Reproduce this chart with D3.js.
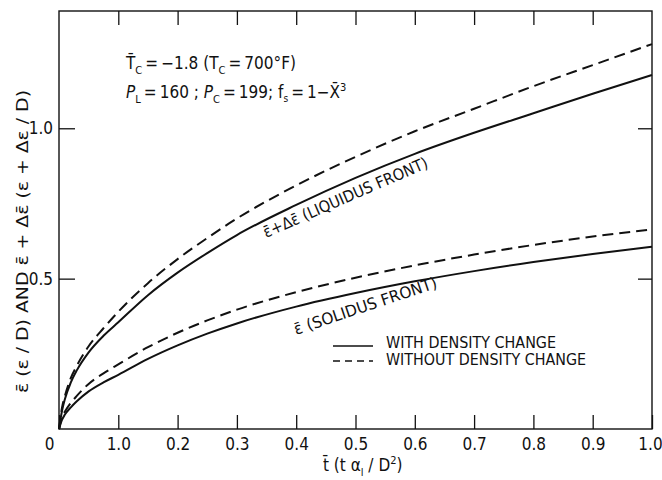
<!DOCTYPE html>
<html><head><meta charset="utf-8">
<script src="https://cdn.jsdelivr.net/npm/d3@7"></script>
<style>body{margin:0;background:#fff}</style>
</head><body>
<svg id="chart" width="662" height="480"></svg>
<script>
// ---- data ----
const tValues         = [0, 0.005, 0.01, 0.02, 0.03, 0.05, 0.075, 0.1, 0.15, 0.2, 0.25, 0.3, 0.4, 0.5, 0.6, 0.7, 0.8, 0.9, 1.0];
const liquidusWith    = [0, 0.06, 0.10, 0.155, 0.195, 0.255, 0.31, 0.355, 0.445, 0.52, 0.585, 0.645, 0.745, 0.835, 0.915, 0.985, 1.05, 1.115, 1.177];
const liquidusWithout = [0, 0.07, 0.11, 0.17, 0.21, 0.275, 0.335, 0.39, 0.485, 0.565, 0.635, 0.70, 0.81, 0.905, 0.99, 1.065, 1.14, 1.21, 1.28];
const solidusWith     = [0, 0.03, 0.048, 0.072, 0.092, 0.125, 0.155, 0.18, 0.233, 0.278, 0.317, 0.351, 0.407, 0.452, 0.491, 0.525, 0.555, 0.582, 0.606];
const solidusWithout  = [0, 0.04, 0.058, 0.087, 0.11, 0.15, 0.185, 0.215, 0.272, 0.32, 0.361, 0.397, 0.455, 0.503, 0.544, 0.58, 0.612, 0.64, 0.664];
const xTickValues = [0, 0.1, 0.2, 0.3, 0.4, 0.5, 0.6, 0.7, 0.8, 0.9, 1.0];
const xTickLabels = ["0", "1.0", "0.2", "0.3", "0.4", "0.5", "0.6", "0.7", "0.8", "0.9", "1.0"];
const yTickValues = [0.5, 1.0];
const yTickLabels = ["0.5", "1.0"];
const legendLabels = ["WITH DENSITY CHANGE", "WITHOUT DENSITY CHANGE"];

const FONT = "'Liberation Sans Narrow','DejaVu Sans Condensed','Arial Narrow',sans-serif";
const svg = d3.select("#chart");
const W = 662, H = 480;
const m = {left: 59, right: 10, top: 11, bottom: 51};
const x = d3.scaleLinear().domain([0, 1]).range([m.left, W - m.right]);
const y = d3.scaleLinear().domain([0, 1.39]).range([H - m.bottom, m.top]);

svg.append("rect").attr("width", W).attr("height", H).attr("fill", "#fff");

// axes (inward ticks)
const gx = svg.append("g").attr("transform", `translate(0,${y(0)})`)
  .call(d3.axisBottom(x).tickValues(xTickValues).tickSize(-14).tickPadding(9)
    .tickFormat((d, i) => xTickLabels[i]));
const gxt = svg.append("g").attr("transform", `translate(0,${y.range()[1]})`)
  .call(d3.axisTop(x).tickValues(xTickValues.slice(1, -1)).tickSize(-14).tickFormat(""));
const gy = svg.append("g").attr("transform", `translate(${x(0)},0)`)
  .call(d3.axisLeft(y).tickValues(yTickValues).tickSize(-16).tickPadding(6)
    .tickFormat((d, i) => yTickLabels[i]));
const gyr = svg.append("g").attr("transform", `translate(${x(1)},0)`)
  .call(d3.axisRight(y).tickValues(yTickValues).tickSize(-14).tickFormat(""));
[gx, gxt, gy, gyr].forEach(g => {
  g.select(".domain").remove();
  g.selectAll("line").attr("stroke", "#111").attr("stroke-width", 1.3);
  g.selectAll("text").attr("font-family", FONT).attr("font-size", 17).attr("fill", "#111");
});
gx.selectAll(".tick").filter(d => d === 0).select("text").attr("dx", -10);
gx.selectAll(".tick").filter(d => d === 1).select("text").attr("dx", -2);

// frame
svg.append("rect")
  .attr("x", x(0)).attr("y", y.range()[1])
  .attr("width", x(1) - x(0)).attr("height", y(0) - y.range()[1])
  .attr("fill", "none").attr("stroke", "#111").attr("stroke-width", 1.4);

// curves
const line = d3.line().x((d, i) => x(tValues[i])).y(d => y(d)).curve(d3.curveMonotoneX);
const series = [
  {v: liquidusWith, dash: null},
  {v: liquidusWithout, dash: "11,6"},
  {v: solidusWith, dash: null},
  {v: solidusWithout, dash: "11,6"}
];
series.forEach(s => {
  svg.append("path").attr("d", line(s.v)).attr("fill", "none")
    .attr("stroke", "#111").attr("stroke-width", 2)
    .attr("stroke-dasharray", s.dash);
});

// curve labels
svg.append("text").attr("font-family", FONT).attr("font-size", 16).attr("fill", "#111")
  .attr("transform", "translate(266,238) rotate(-23.5)")
  .attr("textLength", 178).attr("lengthAdjust", "spacingAndGlyphs")
  .text("ε\u0304+Δε\u0304 (LIQUIDUS FRONT)");
svg.append("text").attr("font-family", FONT).attr("font-size", 16).attr("fill", "#111")
  .attr("transform", "translate(296,335) rotate(-18.5)")
  .attr("textLength", 150).attr("lengthAdjust", "spacingAndGlyphs")
  .text("ε\u0304 (SOLIDUS FRONT)");

// annotation
const a1 = svg.append("text").attr("font-family", FONT).attr("font-size", 17).attr("fill", "#111")
  .attr("x", 126).attr("y", 69);
a1.append("tspan").text("T\u0304");
a1.append("tspan").attr("dy", 5).attr("font-size", 11).text("C");
a1.append("tspan").attr("dy", -5).text("\u2009=\u2009−1.8 (T");
a1.append("tspan").attr("dy", 5).attr("font-size", 11).text("C");
a1.append("tspan").attr("dy", -5).text("\u2009=\u2009700°F)");
const a2 = svg.append("text").attr("font-family", FONT).attr("font-size", 17).attr("fill", "#111")
  .attr("x", 126).attr("y", 98);
a2.append("tspan").attr("font-style", "italic").text("P");
a2.append("tspan").attr("dy", 5).attr("font-size", 11).text("L");
a2.append("tspan").attr("dy", -5).text("\u2009=\u2009160 ; ");
a2.append("tspan").attr("font-style", "italic").text("P");
a2.append("tspan").attr("dy", 5).attr("font-size", 11).text("C");
a2.append("tspan").attr("dy", -5).text("\u2009=\u2009199; f");
a2.append("tspan").attr("dy", 4).attr("font-size", 10).text("s");
a2.append("tspan").attr("dy", -4).text("\u2009=\u20091−X\u0304");
a2.append("tspan").attr("dy", -7).attr("font-size", 11).text("3");

// legend
const leg = [{y: 346, dash: null}, {y: 361, dash: "7,5"}];
leg.forEach((l, i) => {
  svg.append("line").attr("x1", 333).attr("x2", 373).attr("y1", l.y).attr("y2", l.y)
    .attr("stroke", "#111").attr("stroke-width", 1.5).attr("stroke-dasharray", l.dash);
  svg.append("text").attr("font-family", FONT).attr("font-size", 15).attr("fill", "#111")
    .attr("x", 386).attr("y", 348 + i * 17)
    .attr("textLength", i === 0 ? 170 : 200).attr("lengthAdjust", "spacingAndGlyphs")
    .text(legendLabels[i]);
});

// axis titles
const xt = svg.append("text").attr("font-family", FONT).attr("font-size", 17).attr("fill", "#111")
  .attr("x", 323).attr("y", 471);
xt.append("tspan").text("t\u0304 (t α");
xt.append("tspan").attr("dy", 5).attr("font-size", 11).text("l");
xt.append("tspan").attr("dy", -5).text(" / D");
xt.append("tspan").attr("dy", -7).attr("font-size", 11).text("2");
xt.append("tspan").attr("dy", 7).text(")");

svg.append("text").attr("font-family", FONT).attr("font-size", 16).attr("fill", "#111")
  .attr("transform", "translate(28,393) rotate(-90)")
  .attr("textLength", 303).attr("lengthAdjust", "spacingAndGlyphs")
  .text("ε\u0304 (ε / D) AND  ε\u0304 + Δε\u0304  (ε + Δε / D)");
</script>
</body></html>
